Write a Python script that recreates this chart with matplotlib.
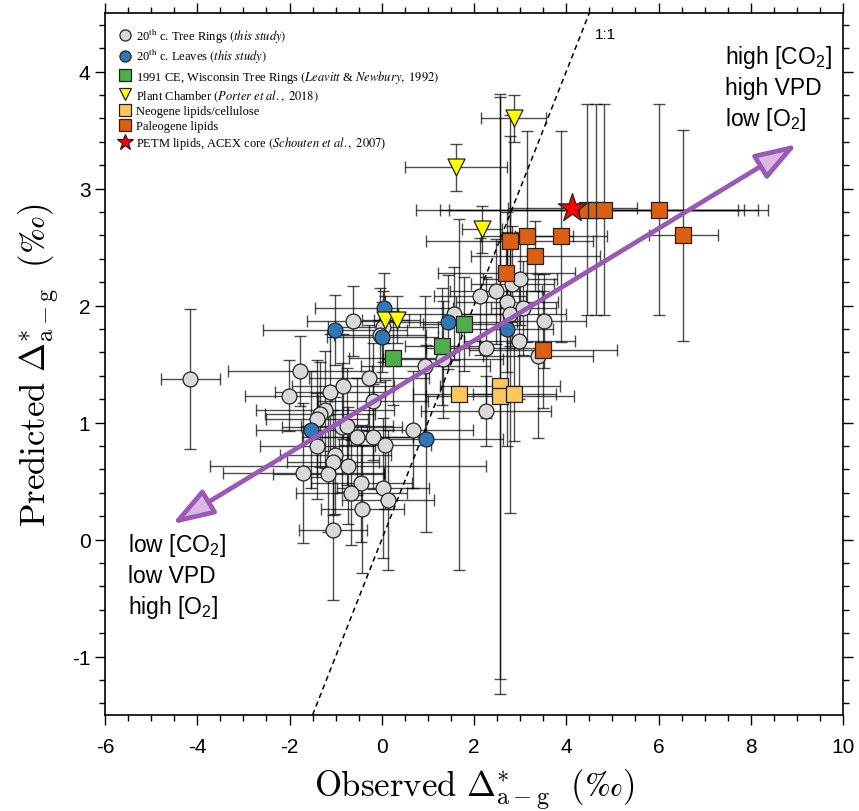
import matplotlib
matplotlib.use("Agg")
import matplotlib.pyplot as plt
from matplotlib.ticker import MultipleLocator
from matplotlib.patches import FancyArrowPatch
from matplotlib.lines import Line2D

plt.rcParams['axes.unicode_minus'] = False

# ---------------- data ----------------
# 20th c. Tree Rings (this study)
tr_x = [-4.15, -2.02, -1.77, -1.70, -0.62, -1.12, -0.84, -0.27, -0.19, -1.23, -1.34, -1.40,
        -0.86, -0.75, -0.53, -0.19, 0.07, -1.40, -1.01, -1.05, -0.73, -1.16, -0.44, -0.66,
        0.03, 0.14, -0.42, -1.05, 0.68, 0.94, 1.33, 0.03, -0.03, 1.56, 2.13, 2.48, 2.83,
        3.00, 2.72, 2.79, 3.07, 3.52, 2.98, 2.26, 3.39, 2.26]
tr_y = [1.37, 1.23, 1.44, 0.57, 1.87, 1.26, 1.31, 1.38, 1.18, 1.11, 1.07, 1.03,
        0.96, 0.97, 0.88, 0.88, 0.81, 0.80, 0.72, 0.66, 0.63, 0.56, 0.48, 0.40,
        0.44, 0.34, 0.26, 0.08, 0.94, 1.48, 1.54, 1.82, 1.75, 1.93, 2.08, 2.12, 2.18,
        2.23, 2.03, 1.93, 1.98, 1.87, 1.70, 1.64, 1.57, 1.10]
tr_xerr = [0.64, 0.94, 1.56, 1.74, 1.0, 1.2, 1.1, 1.3, 1.2, 1.5, 1.2, 1.1,
           1.3, 1.0, 1.2, 1.1, 1.0, 1.25, 1.2, 1.0, 3.0, 1.2, 1.1, 1.2,
           1.0, 1.0, 0.9, 0.74, 1.3, 1.4, 1.3, 1.2, 1.0, 1.2, 1.0, 1.0, 0.9,
           0.8, 1.1, 1.2, 0.7, 0.9, 1.2, 1.3, 1.2, 1.4]
tr_yerr = [0.6, 0.3, 0.3, 0.6, 0.3, 0.5, 0.45, 0.45, 0.5, 0.5, 0.45, 0.5,
           0.55, 0.5, 0.5, 0.45, 0.55, 0.45, 0.5, 0.45, 0.5, 0.5, 0.5, 0.45,
           0.6, 0.6, 0.55, 0.6, 0.5, 0.6, 0.5, 0.3, 0.4, 0.4, 0.5, 0.45, 0.5,
           0.4, 0.6, 1.7, 0.4, 0.4, 0.5, 0.6, 0.7, 0.3]

# 20th c. Leaves (this study)
lv_x = [0.05, -1.01, 0.01, -1.53, 0.96, 1.44, 2.71]
lv_y = [1.98, 1.79, 1.73, 0.94, 0.86, 1.86, 1.80]
lv_xerr = [1.5, 1.56, 1.2, 1.2, 1.67, 1.5, 1.0]
lv_yerr = [0.3, 0.3, 0.3, 0.5, 0.8, 0.4, 1.0]

# 1991 CE, Wisconsin Tree Rings
wi_x = [0.25, 1.31, 1.79]
wi_y = [1.55, 1.65, 1.84]
wi_xerr = [0.95, 0.8, 0.9]
wi_yerr = [0.4, 0.5, 0.4]

# Plant Chamber
pc_x = [0.08, 0.34, 2.86, 1.61, 2.18]
pc_y = [1.88, 1.88, 3.60, 3.18, 2.65]
pc_xerr = [0.5, 0.5, 0.7, 1.1, 0.43]
pc_yerr = [0.2, 0.2, 0.2, 0.2, 0.2]

# Neogene lipids/cellulose
ng_x = [1.68, 2.57, 2.57, 2.87]
ng_y = [1.24, 1.31, 1.23, 1.24]
ng_xerr = [1.0, 1.3, 1.6, 0.9]
ng_yerr = [1.5, 2.5, 2.55, 0.4]

# Paleogene lipids
pg_x = [2.77, 3.15, 3.89, 3.33, 2.70, 4.45, 4.65, 4.82, 6.02, 6.54, 3.50]
pg_y = [2.55, 2.59, 2.59, 2.42, 2.28, 2.82, 2.82, 2.82, 2.82, 2.60, 1.62]
pg_xerr = [1.8, 1.0, 1.0, 1.4, 1.48, 3.7, 3.2, 3.55, 1.7, 0.75, 1.6]
pg_yerr = [0.9, 0.9, 0.9, 0.3, 0.3, 0.9, 0.9, 0.9, 0.9, 0.9, 0.5]

# PETM lipids, ACEX core
pe_x = [4.13]
pe_y = [2.83]
pe_xerr = [1.4]
pe_yerr = [0.0]

# ---------------- figure ----------------
fig = plt.figure(figsize=(8.59, 8.12), dpi=100)
ax = fig.add_axes([105/859, 96/812, 738/859, 702/812])

err_kw = dict(fmt='none', ecolor='black', elinewidth=1.0, capsize=4, capthick=1.0,
              alpha=0.7, zorder=2)

groups = [
    (tr_x, tr_y, tr_xerr, tr_yerr, dict(marker='o', s=115, c='#D9D9D9'),
     r'20$^{\mathrm{th}}$ c. Tree Rings $\mathit{(this\ study)}$'),
    (lv_x, lv_y, lv_xerr, lv_yerr, dict(marker='o', s=115, c='#2F78B7'),
     r'20$^{\mathrm{th}}$ c. Leaves $\mathit{(this\ study)}$'),
    (wi_x, wi_y, wi_xerr, wi_yerr, dict(marker='s', s=130, c='#4DAF4A'),
     r'1991 CE, Wisconsin Tree Rings $\mathit{(Leavitt}$ & $\mathit{Newbury,\ 1992)}$'),
    (pc_x, pc_y, pc_xerr, pc_yerr, dict(marker='v', s=150, c='#FFFF00'),
     r'Plant Chamber $\mathit{(Porter\ et\ al.,\ 2018)}$'),
    (ng_x, ng_y, ng_xerr, ng_yerr, dict(marker='s', s=130, c='#FFC65A'),
     'Neogene lipids/cellulose'),
    (pg_x, pg_y, pg_xerr, pg_yerr, dict(marker='s', s=130, c='#DC5F12'),
     'Paleogene lipids'),
    (pe_x, pe_y, pe_xerr, pe_yerr, dict(marker='*', s=460, c='#FF0000'),
     r'PETM lipids, ACEX core $\mathit{(Schouten\ et\ al.,\ 2007}$)'),
]

for gx, gy, gxe, gye, mk, lab in groups:
    ax.errorbar(gx, gy, xerr=gxe, yerr=gye, **err_kw)

handles = []
for i, (gx, gy, gxe, gye, mk, lab) in enumerate(groups):
    ax.scatter(gx, gy, marker=mk['marker'], s=mk['s'], c=mk['c'],
               edgecolors='#222222', linewidths=0.9, zorder=3 + i * 0.01)
    ms = {'o': 8, 's': 8, 'v': 9, '*': 12}[mk['marker']]
    handles.append(Line2D([], [], linestyle='none', marker=mk['marker'], markersize=ms,
                          markerfacecolor=mk['c'], markeredgecolor='#222222',
                          markeredgewidth=0.9, label=lab))

# 1:1 line
ax.plot([-1.5, 4.5], [-1.5, 4.5], color='black', lw=1.1, ls=(0, (3.5, 2.5)), zorder=2.5)
ax.text(4.85, 4.32, '1:1', fontsize=11, family='Liberation Sans', ha='center', va='center')

# purple double arrow
arr = FancyArrowPatch((-4.55, 0.13), (9.01, 3.38),
                      arrowstyle='<|-|>,head_length=1.5,head_width=0.5',
                      mutation_scale=17, linewidth=3.4, edgecolor='#9B59B6',
                      facecolor='#D9B8E4', zorder=6, shrinkA=0, shrinkB=0)
ax.add_patch(arr)

ax.text(7.45, 4.24, 'high [CO$_\\mathregular{2}$]\nhigh VPD\nlow [O$_\\mathregular{2}$]', fontsize=16.5,
        family='Liberation Sans', ha='left', va='top', linespacing=1.3)
ax.text(-5.5, 0.07, 'low [CO$_\\mathregular{2}$]\nlow VPD\nhigh [O$_\\mathregular{2}$]', fontsize=16.5,
        family='Liberation Sans', ha='left', va='top', linespacing=1.3)

# axes styling
ax.set_xlim(-6, 10)
ax.set_ylim(-1.5, 4.5)
ax.xaxis.set_major_locator(MultipleLocator(2))
ax.xaxis.set_minor_locator(MultipleLocator(0.5))
ax.yaxis.set_major_locator(MultipleLocator(1))
ax.yaxis.set_minor_locator(MultipleLocator(0.2))
ax.tick_params(which='both', direction='out', top=True, right=True, width=1.0)
ax.tick_params(which='major', length=7)
ax.tick_params(which='minor', length=4)
ax.tick_params(axis='x', which='major', pad=9)
for sp in ax.spines.values():
    sp.set_linewidth(1.2)
for t in ax.get_xticklabels() + ax.get_yticklabels():
    t.set_family('Liberation Sans')
    t.set_fontsize(15)

ax.set_xlabel(r'$\mathrm{Observed}\ \Delta^{*}_{\mathrm{a-g}}\ \ (‰)$', fontsize=25,
              math_fontfamily='cm', labelpad=7)
ax.set_ylabel(r'$\mathrm{Predicted}\ \Delta^{*}_{\mathrm{a-g}}\ \ (‰)$', fontsize=25,
              math_fontfamily='cm', labelpad=8)

leg = ax.legend(handles=handles, loc='upper left', bbox_to_anchor=(0.005, 0.993),
                frameon=False, prop={'family': 'Liberation Serif', 'size': 9},
                handletextpad=0.3, labelspacing=0.2, handlelength=1.2, borderaxespad=0.3)
for t in leg.get_texts():
    t.set_math_fontfamily('stix')

fig.savefig('out.png', dpi=100)
